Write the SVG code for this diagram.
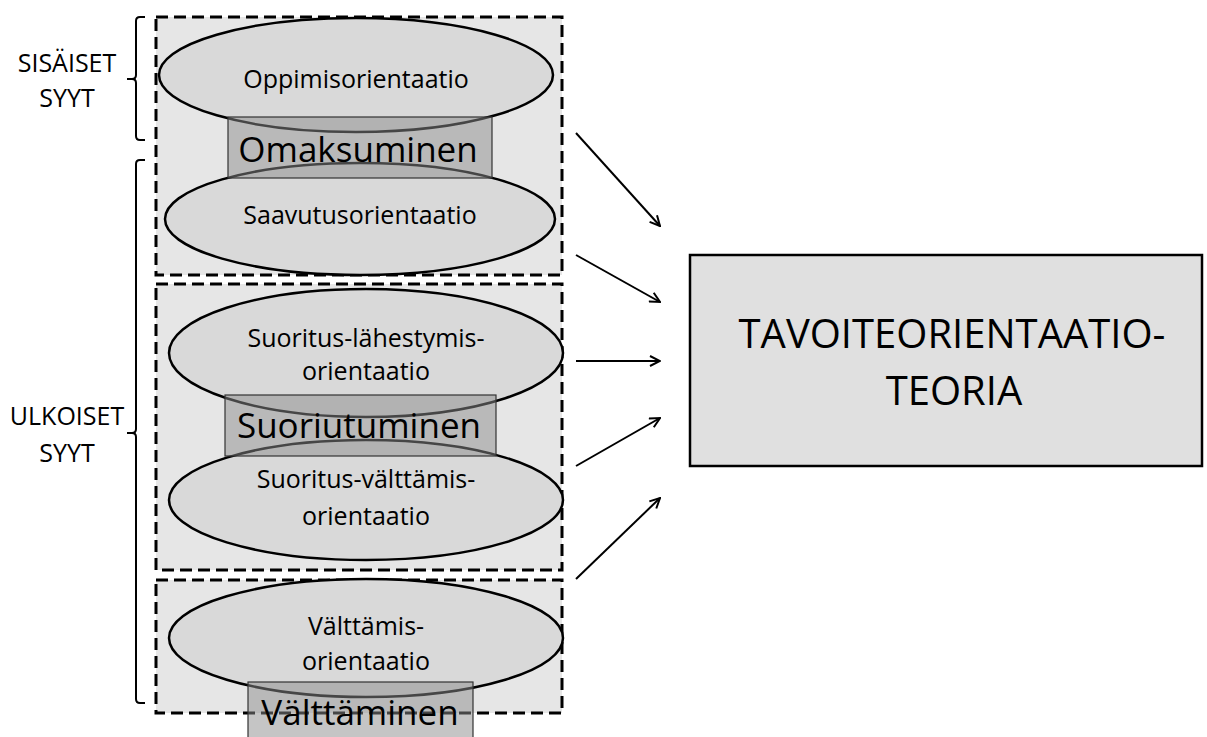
<svg xmlns="http://www.w3.org/2000/svg" width="1207" height="737" viewBox="0 0 1207 737">
<defs>
<style>
text{font-family:"Open Sans","Noto Sans","Liberation Sans",sans-serif;fill:#000;text-anchor:middle}
.grp{fill:#e6e6e6;stroke:#000;stroke-width:3;stroke-dasharray:12 6}
.ell{fill:#d9d9d9;stroke:#000;stroke-width:2.5}
.tag{fill:#8c8c8c;fill-opacity:0.5;stroke:#333;stroke-width:1.2}
.lbl{font-size:25px}
.big{font-size:35px}
.side{font-size:25px}
.brace{fill:none;stroke:#000;stroke-width:2}
.arr{fill:none;stroke:#000;stroke-width:2;marker-end:url(#ah)}
</style>
<marker id="ah" viewBox="0 0 12 12" refX="11" refY="6" markerWidth="12" markerHeight="12" markerUnits="userSpaceOnUse" orient="auto">
<polyline points="1,1 11,6 1,11" fill="none" stroke="#000" stroke-width="2"/>
</marker>
</defs>
<rect width="1207" height="737" fill="#fff"/>

<g id="group-omaksuminen">
<rect class="grp" x="156" y="17" width="406" height="258"/>
</g>
<g id="group-suoriutuminen">
<rect class="grp" x="156" y="284" width="406" height="286"/>
</g>
<g id="group-valttaminen">
<rect class="grp" x="156" y="580" width="406" height="133"/>
</g>

<g id="node-oppimis">
<ellipse class="ell" cx="356" cy="75" rx="197" ry="57"/>
<text class="lbl" x="356" y="88">Oppimisorientaatio</text>
</g>
<g id="node-saavutus">
<ellipse class="ell" cx="360" cy="219" rx="195" ry="56"/>
<text class="lbl" x="360" y="224">Saavutusorientaatio</text>
</g>
<g id="node-omaksuminen">
<rect class="tag" x="228" y="117" width="264" height="61"/>
<text class="big" x="358" y="162">Omaksuminen</text>
</g>

<g id="node-lahestymis">
<ellipse class="ell" cx="366" cy="353" rx="197" ry="64"/>
<text class="lbl" x="366" y="347">Suoritus-lähestymis-</text>
<text class="lbl" x="366" y="380">orientaatio</text>
</g>
<g id="node-valttamis-suoritus">
<ellipse class="ell" cx="366" cy="500" rx="197" ry="60"/>
<text class="lbl" x="366" y="488">Suoritus-välttämis-</text>
<text class="lbl" x="366" y="525">orientaatio</text>
</g>
<g id="node-suoriutuminen">
<rect class="tag" x="225" y="395" width="271" height="61"/>
<text class="big" x="359" y="438">Suoriutuminen</text>
</g>

<g id="node-valttamis">
<ellipse class="ell" cx="366" cy="638" rx="197" ry="59"/>
<text class="lbl" x="366" y="635">Välttämis-</text>
<text class="lbl" x="366" y="670">orientaatio</text>
</g>
<g id="node-valttaminen">
<rect class="tag" x="248" y="682" width="225" height="70"/>
<text class="big" x="360" y="725">Välttäminen</text>
</g>

<g id="node-teoria">
<rect x="690" y="255" width="512" height="211" fill="#e0e0e0" stroke="#000" stroke-width="2.5"/>
<text x="952" y="348" font-size="40">TAVOITEORIENTAATIO-</text>
<text x="954" y="405" font-size="40">TEORIA</text>
</g>

<g id="label-sisaiset">
<path class="brace" d="M145,17 L140,17 Q136,17 136,21 L136,75 Q136,79 132,79 L127,79 M132,79 Q136,79 136,83 L136,136 Q136,140 140,140 L145,140"/>
<text class="side" x="67" y="72">SISÄISET</text>
<text class="side" x="67" y="107">SYYT</text>
</g>
<g id="label-ulkoiset">
<path class="brace" d="M145,160 L140,160 Q136,160 136,164 L136,429 Q136,433 132,433 L127,433 M132,433 Q136,433 136,437 L136,699 Q136,703 140,703 L145,703"/>
<text class="side" x="67" y="425">ULKOISET</text>
<text class="side" x="67" y="462">SYYT</text>
</g>

<g id="connectors">
<line class="arr" x1="576" y1="133" x2="660" y2="226"/>
<line class="arr" x1="576" y1="255" x2="660" y2="302"/>
<line class="arr" x1="576" y1="361" x2="660" y2="361"/>
<line class="arr" x1="576" y1="466" x2="660" y2="418"/>
<line class="arr" x1="576" y1="579" x2="660" y2="498"/>
</g>
</svg>
